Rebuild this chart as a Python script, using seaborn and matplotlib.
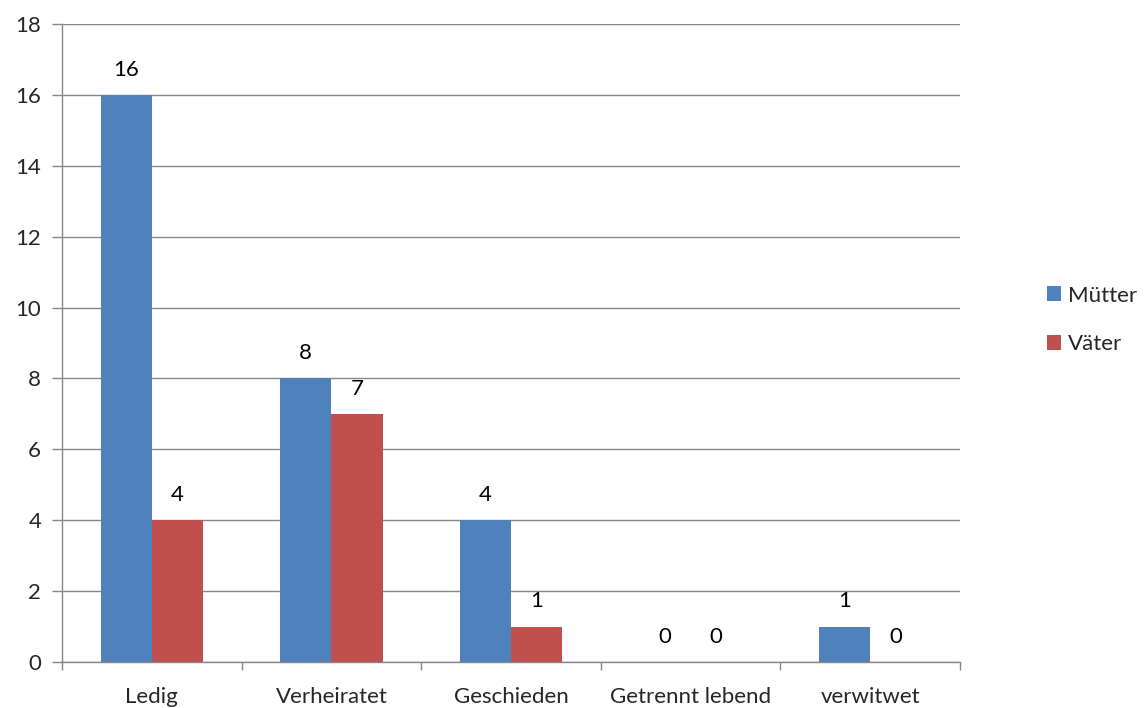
import matplotlib
matplotlib.use("Agg")
import matplotlib.pyplot as plt
import seaborn as sns
import pandas as pd
import numpy as np

categories = ["Ledig", "Verheiratet", "Geschieden", "Getrennt lebend", "verwitwet"]
muetter = [16, 8, 4, 0, 1]
vaeter = [4, 7, 1, 0, 0]
series_names = ["Mütter", "Väter"]
colors = ["#4F81BD", "#C0504D"]
yticks = [0, 2, 4, 6, 8, 10, 12, 14, 16, 18]

df = pd.DataFrame({
    "Kategorie": categories * 2,
    "Wert": muetter + vaeter,
    "Serie": [series_names[0]] * len(categories) + [series_names[1]] * len(categories),
})

sns.set_style("white")
plt.rcParams["font.family"] = ["Lato", "DejaVu Sans"]

fig = plt.figure(figsize=(11.48, 7.08), dpi=100)
ax = fig.add_axes([62 / 1148, 46 / 708, (960 - 62) / 1148, (662 - 24) / 708])

sns.barplot(data=df, x="Kategorie", y="Wert", hue="Serie", order=categories,
            hue_order=series_names, palette=colors, width=0.57, gap=0,
            saturation=1, ax=ax, legend=True, edgecolor="none", linewidth=0)

for cont in ax.containers:
    ax.bar_label(cont, fmt="%d", padding=11, fontsize=16, color="black")

ax.set_ylim(0, 18)
ax.set_xlim(-0.5, 4.5)
ax.set_yticks(yticks)
ax.yaxis.grid(True, color="#868686", linewidth=1)
ax.set_axisbelow(True)
ax.set_xlabel("")
ax.set_ylabel("")

for s in ["top", "right"]:
    ax.spines[s].set_visible(False)
for s in ["left", "bottom"]:
    ax.spines[s].set_color("#868686")
    ax.spines[s].set_linewidth(1)

ax.tick_params(axis="y", left=True, length=7, color="#868686", width=1, labelsize=16, pad=8)
ax.tick_params(axis="x", which="major", bottom=False, length=0, labelsize=16, pad=18)
ax.set_xticks(np.arange(-0.5, 5.0, 1.0), minor=True)
ax.tick_params(axis="x", which="minor", bottom=True, length=6, color="#868686", width=1)

handles, labels = ax.get_legend_handles_labels()
ax.legend(handles, labels, loc="center left", bbox_to_anchor=(1047 / 1148, 388 / 708),
          bbox_transform=fig.transFigure, frameon=False, fontsize=16,
          borderpad=0, borderaxespad=0,
          handlelength=0.65, handleheight=0.65, handletextpad=0.3, labelspacing=1.3)

fig.savefig("out.png", dpi=100)
